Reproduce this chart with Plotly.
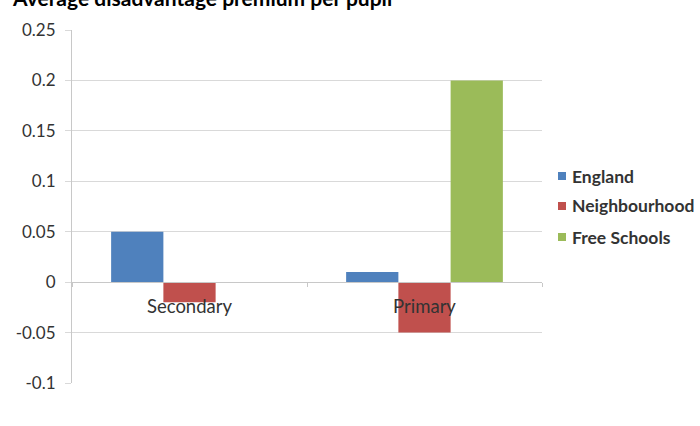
import plotly.graph_objects as go

categories = ["Secondary", "Primary"]
england = [0.05, 0.01]
neighbourhood = [-0.02, -0.05]
free_schools = [0, 0.2]
series_names = ["England", "Neighbourhood", "Free Schools"]
colors = ["#4F81BD", "#C0504D", "#9BBB59"]
y_ticks = [0.25, 0.2, 0.15, 0.1, 0.05, 0, -0.05, -0.1]
y_tick_labels = ["0.25", "0.2", "0.15", "0.1", "0.05", "0", "-0.05", "-0.1"]
title_text = "Average disadvantage premium per pupil"

W, H = 700, 426
L, R, T, B = 72, 158, 30, 43
PW, PH = W - L - R, H - T - B


def px_x(x):
    return (x - L) / PW


def px_y(y):
    return 1 - (y - T) / PH


fig = go.Figure()
for name, vals, c in zip(series_names, [england, neighbourhood, free_schools], colors):
    fig.add_trace(go.Bar(x=categories, y=vals, name=name, showlegend=False,
                         marker=dict(color=c, line=dict(width=0))))

ymin, ymax = -0.1, 0.25
zero_pos = (0 - ymin) / (ymax - ymin)

FONT = "Lato"
TXT = "#333333"

shapes = []
annotations = []
legend_rows = [176, 206, 237]
for name, c, yc in zip(series_names, colors, legend_rows):
    shapes.append(dict(type="rect", xref="paper", yref="paper",
                       x0=px_x(558), x1=px_x(566), y0=px_y(yc + 4), y1=px_y(yc - 4),
                       fillcolor=c, line=dict(width=0)))
    annotations.append(dict(text="<b>" + name + "</b>", xref="paper", yref="paper",
                            x=px_x(570), y=px_y(yc), xanchor="left", yanchor="middle",
                            showarrow=False, font=dict(size=17.5, color=TXT, family=FONT)))

annotations.append(dict(text="<b>" + title_text + "</b>", xref="paper", yref="paper",
                        x=px_x(10), y=px_y(12), xanchor="left", yanchor="bottom", showarrow=False,
                        font=dict(size=21, color="black", family=FONT)))

fig.update_layout(
    width=W, height=H,
    margin=dict(l=L, r=R, t=T, b=B),
    paper_bgcolor="white", plot_bgcolor="white",
    barmode="group", bargap=0.333, bargroupgap=0,
    font=dict(family=FONT, size=17, color=TXT),
    showlegend=False,
    xaxis=dict(anchor="free", position=zero_pos, showline=True, linecolor="#C8C8C8",
               linewidth=1, ticks="outside", ticklen=4, tickcolor="#C8C8C8",
               tickson="boundaries", showgrid=False, ticklabelstandoff=8,
               tickfont=dict(size=18.5, color=TXT, family=FONT)),
    yaxis=dict(range=[ymin, ymax], tickvals=y_ticks, ticktext=y_tick_labels,
               showgrid=True, gridcolor="#D9D9D9", gridwidth=1,
               showline=True, linecolor="#C8C8C8", linewidth=1,
               ticks="outside", ticklen=6, tickcolor="#D9D9D9",
               ticklabelstandoff=6,
               zeroline=False, tickfont=dict(size=17, color=TXT, family=FONT)),
    shapes=shapes,
    annotations=annotations,
)

fig.write_html("out.html")
